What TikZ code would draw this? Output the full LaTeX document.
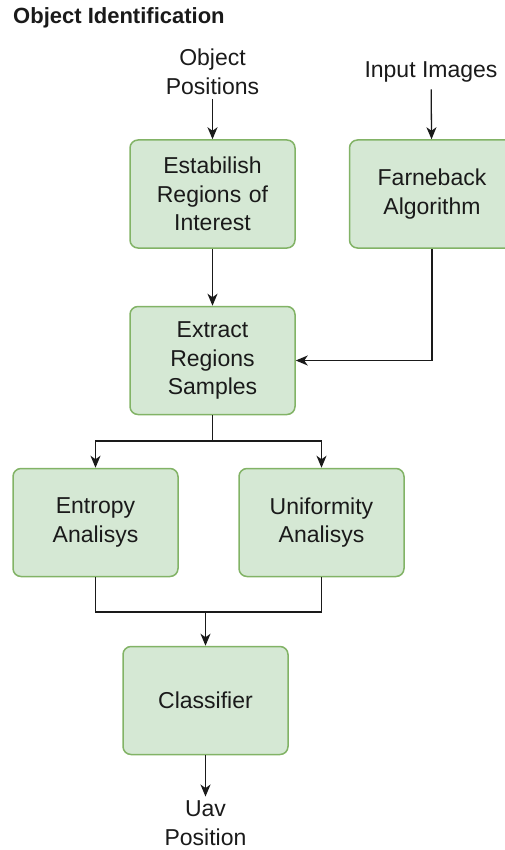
\documentclass[tikz,border=0pt]{standalone}
\usepackage{fontspec}
\setmainfont{Liberation Sans}
\usepackage{xcolor}
\usetikzlibrary{arrows.meta, positioning}

\definecolor{boxfill}{HTML}{D5E8D4}
\definecolor{boxline}{HTML}{82B366}
\definecolor{inkcol}{HTML}{1A1A1A}

\begin{document}
\begin{tikzpicture}[
    x=1pt, y=-1pt,
    node distance=57pt,
    procbox/.style={rectangle, draw=boxline, fill=boxfill, line width=1.5pt, rounded corners=8pt, align=center, text width=160pt, minimum width=165pt, minimum height=108pt, inner sep=0pt, text=inkcol, font=\fontsize{23}{28.5}\selectfont},
    lbl/.style={align=center, inner sep=4pt, text=inkcol, font=\fontsize{23}{28.5}\selectfont},
    arr/.style={-{Stealth[length=12pt, width=10pt, inset=3.5pt]}, line width=1.3pt, color=inkcol},
    lin/.style={line width=1.3pt, color=inkcol}
]
\useasboundingbox (0,0) rectangle (505,850);

\node[anchor=west, inner sep=0pt, text=inkcol, font=\fontsize{22}{26}\selectfont\bfseries] (title) at (13,18) {Object Identification};

\node[procbox] (roi) at (212.5,194) {Estabilish\\Regions of\\Interest};
\node[procbox, right=53pt of roi] (farn) {Farneback\\Algorithm};
\node[procbox, below=of roi] (extract) {Extract\\Regions\\Samples};
\node[procbox] (entropy) at (95.5,522.5) {Entropy\\Analisys};
\node[procbox] (uniform) at (321.5,522.5) {Uniformity\\Analisys};
\node[procbox] (classif) at (205.5,700.5) {Classifier};

\node[lbl] (objpos) at (212.5,72) {Object\\Positions};
\node[lbl, inner sep=7pt] (inimg) at (431,72) {Input Images};
\node[lbl] (uavpos) at (205.5,823) {Uav\\Position};

\coordinate (split) at (212.5,441);
\coordinate (join) at (205.5,612);

\draw[arr] (objpos) -- (roi);
\draw[arr] (inimg) -- (farn);
\draw[arr] (roi) -- (extract);
\draw[arr] (farn.south) |- (extract.east);
\draw[lin] (extract) -- (split);
\draw[arr] (split) -| (entropy.north);
\draw[arr] (split) -| (uniform.north);
\draw[lin] (entropy.south) |- (join);
\draw[lin] (uniform.south) |- (join);
\draw[arr] (join) -- (classif);
\draw[arr] (classif) -- (uavpos);

\end{tikzpicture}
\end{document}
